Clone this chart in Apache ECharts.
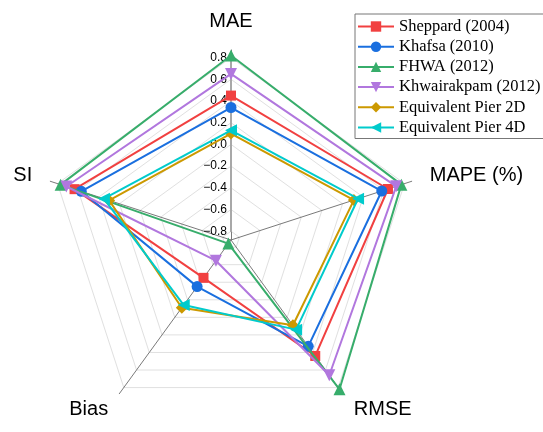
<!DOCTYPE html>
<html>
<head>
<meta charset="utf-8">
<script src="https://cdn.jsdelivr.net/npm/echarts@6/dist/echarts.min.js"></script>
<style>html,body{margin:0;padding:0;background:#fff;}#c{width:543px;height:432px;}</style>
</head>
<body>
<div id="c"></div>
<script>
// Metrics in clockwise order starting from top
const metrics = ['MAE', 'MAPE (%)', 'RMSE', 'Bias', 'SI'];
const tickValues = [-0.8, -0.6, -0.4, -0.2, 0.0, 0.2, 0.4, 0.6, 0.8];
const seriesNames = ['Sheppard (2004)', 'Khafsa (2010)', 'FHWA (2012)', 'Khwairakpam (2012)', 'Equivalent Pier 2D', 'Equivalent Pier 4D'];
// values per metric: MAE, MAPE, RMSE, Bias, SI
const sheppard    = [0.45, 0.64, 0.44, -0.45, 0.635];
const khafsa      = [0.34, 0.58, 0.33, -0.35, 0.57];
const fhwa        = [0.82, 0.77, 0.82, -0.84, 0.77];
const khwairakpam = [0.65, 0.72, 0.66, -0.645, 0.715];
const pier2D      = [0.10, 0.31, 0.09, -0.11, 0.30];
const pier4D      = [0.13, 0.35, 0.14, -0.14, 0.35];

const seriesValues = [sheppard, khafsa, fhwa, khwairakpam, pier2D, pier4D];
const colors = ['#F14040', '#1A6FDF', '#37AD6B', '#B177DE', '#CC9900', '#00CBCC'];
const symbols = ['rect', 'circle', 'triangle', 'triangle', 'diamond', 'triangle'];
const symbolRot = [0, 0, 0, 180, 0, 90];
const symbolSizes = [10, 11, 12, 12, 12, 12];

// ECharts radar runs counter-clockwise; reorder so the picture is clockwise
const order = [0, 4, 3, 2, 1];
const cx = 231, cy = 240;
const rInner = 8.8, rOuter = 182.4, rAxis = 190;

const chart = echarts.init(document.getElementById('c'), null, {renderer: 'canvas'});

const lineSeries = seriesNames.map((n, i) => ({
  type: 'line', name: n, xAxisIndex: 0, yAxisIndex: 0, data: [],
  symbol: symbols[i], symbolRotate: symbolRot[i], symbolSize: symbolSizes[i],
  itemStyle: {color: colors[i]}, lineStyle: {color: colors[i], width: 2}
}));

const radarSeries = seriesNames.map((n, i) => ({
  type: 'radar', radarIndex: 1, name: n,
  symbol: symbols[i], symbolRotate: symbolRot[i], symbolSize: symbolSizes[i],
  itemStyle: {color: colors[i]}, lineStyle: {color: colors[i], width: 2},
  z: 3 + i,
  data: [{value: order.map(k => seriesValues[i][k]), name: n}]
}));

chart.setOption({
  animation: false,
  backgroundColor: '#fff',
  radar: [
    {
      center: [cx, cy], radius: rAxis, startAngle: 90, shape: 'polygon',
      indicator: order.map(k => ({name: metrics[k], min: 0, max: 1})),
      nameGap: 19,
      axisName: {color: '#000', fontSize: 20, fontFamily: 'Liberation Sans, Arial, sans-serif'},
      axisLine: {lineStyle: {color: '#7a7a7a', width: 1}},
      splitLine: {show: false}, splitArea: {show: false},
      axisTick: {show: false}, axisLabel: {show: false}
    },
    {
      center: [cx, cy], radius: [rInner, rOuter], startAngle: 90, shape: 'polygon',
      splitNumber: 8,
      indicator: order.map(k => ({name: '', min: tickValues[0], max: tickValues[tickValues.length - 1]})),
      axisName: {show: false},
      axisLine: {show: false},
      splitLine: {lineStyle: {color: '#e0e0e0', width: 1}},
      splitArea: {show: false},
      axisTick: {show: false}, axisLabel: {show: false}
    }
  ],
  grid: {left: cx, top: cy - rOuter, width: 1, height: rOuter - rInner, containLabel: false},
  xAxis: {type: 'value', show: false, min: 0, max: 1},
  yAxis: {
    type: 'value', position: 'left', min: tickValues[0], max: tickValues[tickValues.length - 1], interval: 0.2,
    axisLine: {show: true, lineStyle: {color: '#a8a8a8', width: 2}},
    axisTick: {show: false}, splitLine: {show: false},
    axisLabel: {
      fontSize: 12, color: '#000', margin: 4, fontFamily: 'Liberation Sans, Arial, sans-serif',
      formatter: v => v.toFixed(1).replace('-', '\u2212')
    }
  },
  legend: {
    data: seriesNames, orient: 'vertical', left: 355, top: 14,
    itemWidth: 36, itemHeight: 13, itemGap: 3.2,
    padding: [4, 3, 2.5, 2],
    borderColor: '#777', borderWidth: 1,
    textStyle: {fontSize: 16.5, lineHeight: 16, color: '#000', fontFamily: 'Liberation Serif, Times New Roman, serif'}
  },
  series: lineSeries.concat(radarSeries)
});
</script>
</body>
</html>
